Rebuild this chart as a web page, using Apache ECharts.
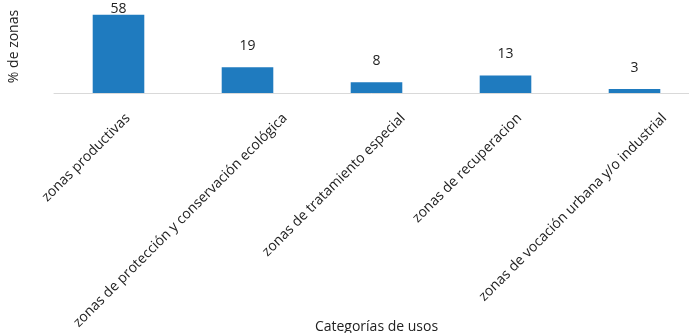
<!DOCTYPE html>
<html>
<head>
<meta charset="utf-8">
<script src="https://cdn.jsdelivr.net/npm/echarts@6/dist/echarts.min.js"></script>
<style>html,body{margin:0;padding:0;background:#fff}#c{width:689px;height:333px}</style>
</head>
<body>
<div id="c"></div>
<script>
const categories = ["zonas productivas","zonas de protección y conservación ecológica","zonas de tratamiento especial","zonas de recuperacion","zonas de vocación urbana y/o industrial"];
const values = [58, 19, 8, 13, 3];
const xAxisTitle = "Categorías de usos";
const yAxisTitle = "% de zonas";

// layout only: horizontal offset (px) of each rotated category label's end from its tick, as in the source
const labelDx = [4.5, 32.5, 21.5, 9, 25];
const LABEL_DY = 18;

const FONT = "Open Sans";
const chart = echarts.init(document.getElementById('c'), null, {renderer:'canvas'});
chart.setOption({
  animation:false,
  backgroundColor:'#fff',
  grid:{left:54, width:645, top:12, bottom:240, containLabel:false, outerBoundsMode:'none'},
  xAxis:{
    type:'category',
    data:categories,
    name:xAxisTitle, nameLocation:'middle', nameGap:227,
    nameTextStyle:{fontFamily:FONT, fontSize:14, color:'#222'},
    axisLine:{lineStyle:{color:'#d9d9d9', width:1}},
    axisTick:{show:false},
    axisLabel:{show:false}
  },
  yAxis:{
    type:'value', min:0, max:60,
    name:yAxisTitle, nameLocation:'middle', nameGap:33, nameRotate:90,
    nameTextStyle:{fontFamily:FONT, fontSize:14, color:'#222', padding:[0,0,0,12]},
    axisLine:{show:false}, axisTick:{show:false}, axisLabel:{show:false}, splitLine:{show:false}
  },
  series:[{
    type:'bar', barWidth:'40%',
    data: values.map((v,i)=> i===0 ? {value:v, label:{distance:-1}} : v),
    itemStyle:{color:'#1f7bbf'},
    label:{show:true, position:'top', distance:14, fontFamily:FONT, fontSize:14, color:'#222'}
  }]
});

// rotated category labels, anchored on the library's own axis positions
const baseY = chart.convertToPixel({yAxisIndex:0}, 0);
chart.setOption({
  graphic: categories.map((c,i)=>({
    type:'text',
    x: chart.convertToPixel({xAxisIndex:0}, c) + labelDx[i],
    y: baseY + LABEL_DY,
    rotation: Math.PI/4,
    silent:true,
    style:{text:c, align:'right', verticalAlign:'top', fontFamily:FONT, fontSize:14, fill:'#222'}
  }))
});
</script>
</body>
</html>
